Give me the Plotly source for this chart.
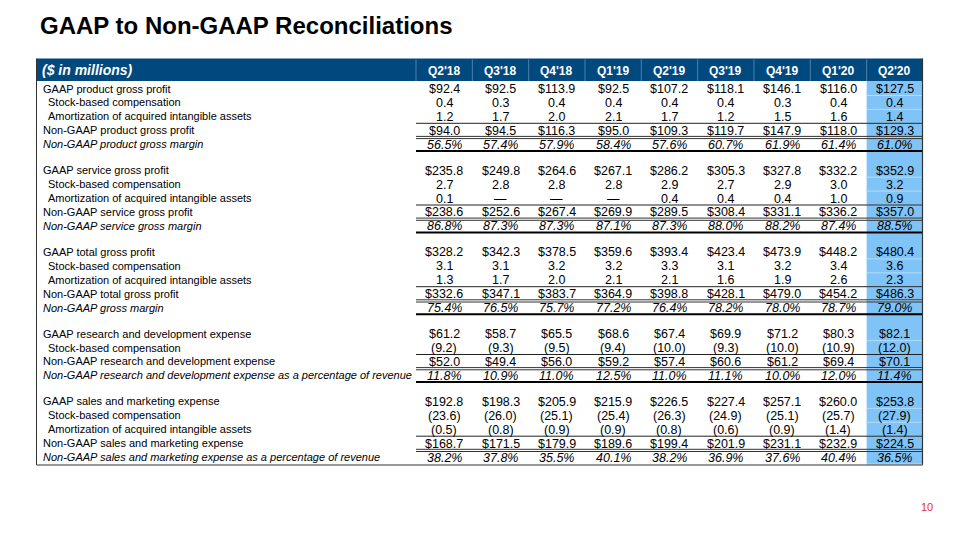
import plotly.graph_objects as go

quarters = ["Q2'18", "Q3'18", "Q4'18", "Q1'19", "Q2'19", "Q3'19", "Q4'19", "Q1'20", "Q2'20"]

# Product
product_gaap = [92.4, 92.5, 113.9, 92.5, 107.2, 118.1, 146.1, 116.0, 127.5]
product_sbc = [0.4, 0.3, 0.4, 0.4, 0.4, 0.4, 0.3, 0.4, 0.4]
product_amort = [1.2, 1.7, 2.0, 2.1, 1.7, 1.2, 1.5, 1.6, 1.4]
product_nongaap = [94.0, 94.5, 116.3, 95.0, 109.3, 119.7, 147.9, 118.0, 129.3]
product_margin = [56.5, 57.4, 57.9, 58.4, 57.6, 60.7, 61.9, 61.4, 61.0]
# Service
service_gaap = [235.8, 249.8, 264.6, 267.1, 286.2, 305.3, 327.8, 332.2, 352.9]
service_sbc = [2.7, 2.8, 2.8, 2.8, 2.9, 2.7, 2.9, 3.0, 3.2]
service_amort = [0.1, None, None, None, 0.4, 0.4, 0.4, 1.0, 0.9]
service_nongaap = [238.6, 252.6, 267.4, 269.9, 289.5, 308.4, 331.1, 336.2, 357.0]
service_margin = [86.8, 87.3, 87.3, 87.1, 87.3, 88.0, 88.2, 87.4, 88.5]
# Total
total_gaap = [328.2, 342.3, 378.5, 359.6, 393.4, 423.4, 473.9, 448.2, 480.4]
total_sbc = [3.1, 3.1, 3.2, 3.2, 3.3, 3.1, 3.2, 3.4, 3.6]
total_amort = [1.3, 1.7, 2.0, 2.1, 2.1, 1.6, 1.9, 2.6, 2.3]
total_nongaap = [332.6, 347.1, 383.7, 364.9, 398.8, 428.1, 479.0, 454.2, 486.3]
total_margin = [75.4, 76.5, 75.7, 77.2, 76.4, 78.2, 78.0, 78.7, 79.0]
# R&D
rd_gaap = [61.2, 58.7, 65.5, 68.6, 67.4, 69.9, 71.2, 80.3, 82.1]
rd_sbc = [-9.2, -9.3, -9.5, -9.4, -10.0, -9.3, -10.0, -10.9, -12.0]
rd_nongaap = [52.0, 49.4, 56.0, 59.2, 57.4, 60.6, 61.2, 69.4, 70.1]
rd_pct = [11.8, 10.9, 11.0, 12.5, 11.0, 11.1, 10.0, 12.0, 11.4]
# S&M
sm_gaap = [192.8, 198.3, 205.9, 215.9, 226.5, 227.4, 257.1, 260.0, 253.8]
sm_sbc = [-23.6, -26.0, -25.1, -25.4, -26.3, -24.9, -25.1, -25.7, -27.9]
sm_amort = [-0.5, -0.8, -0.9, -0.9, -0.8, -0.6, -0.9, -1.4, -1.4]
sm_nongaap = [168.7, 171.5, 179.9, 189.6, 199.4, 201.9, 231.1, 232.9, 224.5]
sm_pct = [38.2, 37.8, 35.5, 40.1, 38.2, 36.9, 37.6, 40.4, 36.5]

sections = [
    [("GAAP product gross profit", product_gaap, "gaap"),
     ("Stock-based compensation", product_sbc, "adj"),
     ("Amortization of acquired intangible assets", product_amort, "adj"),
     ("Non-GAAP product gross profit", product_nongaap, "nongaap"),
     ("Non-GAAP product gross margin", product_margin, "pct")],
    [("GAAP service gross profit", service_gaap, "gaap"),
     ("Stock-based compensation", service_sbc, "adj"),
     ("Amortization of acquired intangible assets", service_amort, "adj"),
     ("Non-GAAP service gross profit", service_nongaap, "nongaap"),
     ("Non-GAAP service gross margin", service_margin, "pct")],
    [("GAAP total gross profit", total_gaap, "gaap"),
     ("Stock-based compensation", total_sbc, "adj"),
     ("Amortization of acquired intangible assets", total_amort, "adj"),
     ("Non-GAAP total gross profit", total_nongaap, "nongaap"),
     ("Non-GAAP gross margin", total_margin, "pct")],
    [("GAAP research and development expense", rd_gaap, "gaap"),
     ("Stock-based compensation", rd_sbc, "adj"),
     ("Non-GAAP research and development expense", rd_nongaap, "nongaap"),
     ("Non-GAAP research and development expense as a percentage of revenue", rd_pct, "pct")],
    [("GAAP sales and marketing expense", sm_gaap, "gaap"),
     ("Stock-based compensation", sm_sbc, "adj"),
     ("Amortization of acquired intangible assets", sm_amort, "adj"),
     ("Non-GAAP sales and marketing expense", sm_nongaap, "nongaap"),
     ("Non-GAAP sales and marketing expense as a percentage of revenue", sm_pct, "pct")],
]

FONT = "Liberation Sans, Arial, sans-serif"
HEADER_BLUE = "#00497F"
HILITE = "#80C4F7"

TBL_L, TBL_R = 36.5, 922.5
HDR_T, HDR_B = 58.5, 81
TBL_B = 465
VAL_L = 416
COLW = 56.33
COL0 = VAL_L + COLW / 2
ROW0, STEP, GAP = 88.5, 13.9, 12.2
PAGE_OFF = 8  # browser body margin


def fmt(v, kind):
    if v is None:
        return "\u2014"
    if kind in ("gaap", "nongaap"):
        return "$%.1f" % v
    if kind == "pct":
        return "<i>%.1f%%</i>" % v
    if v < 0:
        return "(%.1f)" % (-v)
    return "%.1f" % v


fig = go.Figure()
shapes = []
ann = []

HL_X0 = VAL_L + COLW * 8

# header band and highlight column
shapes.append(dict(type="rect", x0=TBL_L, x1=TBL_R, y0=HDR_T, y1=HDR_B,
                   fillcolor=HEADER_BLUE, line=dict(width=0), layer="below"))
shapes.append(dict(type="rect", x0=HL_X0, x1=TBL_R, y0=HDR_B, y1=TBL_B,
                   fillcolor=HILITE, line=dict(width=0), layer="below"))
# header column separators
for i in range(len(quarters)):
    xb = VAL_L + COLW * i
    shapes.append(dict(type="line", x0=xb, x1=xb, y0=HDR_T + 1, y1=HDR_B,
                       line=dict(color="#4F7FAD", width=1)))

ann.append(dict(x=TBL_L + 3.5, y=(HDR_T + HDR_B) / 2 + 0.5, text="<b><i>($ in millions)</i></b>",
                xanchor="left", yanchor="middle", showarrow=False,
                font=dict(family=FONT, size=14, color="white")))
for i, q in enumerate(quarters):
    ann.append(dict(x=COL0 + COLW * i, y=(HDR_T + HDR_B) / 2 + 1.5, text="<b>%s</b>" % q,
                    xanchor="center", yanchor="middle", showarrow=False,
                    font=dict(family=FONT, size=12, color="white")))

k = 0
for s_idx, sec in enumerate(sections):
    for r_idx, (label, vals, kind) in enumerate(sec):
        y = ROW0 + STEP * k + GAP * s_idx
        indent = 5 if kind == "adj" else 0
        lab = "<i>%s</i>" % label if kind == "pct" else label
        ann.append(dict(x=TBL_L + 4 + indent, y=y, text=lab, xanchor="left", yanchor="middle",
                        showarrow=False, font=dict(family=FONT, size=11, color="black")))
        for i, v in enumerate(vals):
            ann.append(dict(x=COL0 + COLW * i, y=y + 0.5, text=fmt(v, kind), xanchor="center",
                            yanchor="middle", showarrow=False,
                            font=dict(family=FONT, size=12.5, color="black")))
        # faint cell borders inside highlight column
        shapes.append(dict(type="line", x0=HL_X0, x1=TBL_R, y0=y + 7, y1=y + 7,
                           line=dict(color="#B3DBFA", width=1), layer="below"))
        # rules
        nxt = sec[r_idx + 1][2] if r_idx + 1 < len(sec) else None
        if nxt == "nongaap":
            shapes.append(dict(type="line", x0=VAL_L, x1=TBL_R, y0=y + 7, y1=y + 7,
                               line=dict(color="#222222", width=1)))
        if kind == "nongaap":
            for dy in (6.2, 8.4):
                shapes.append(dict(type="line", x0=VAL_L, x1=TBL_R, y0=y + dy, y1=y + dy,
                                   line=dict(color="#333333", width=1)))
        if kind == "pct" and s_idx < len(sections) - 1:
            shapes.append(dict(type="line", x0=VAL_L, x1=TBL_R, y0=y + 6.8, y1=y + 6.8,
                               line=dict(color="black", width=2)))
        k += 1

# table borders
shapes.append(dict(type="line", x0=TBL_L, x1=TBL_L, y0=HDR_T, y1=TBL_B, line=dict(color="#333333", width=1)))
shapes.append(dict(type="line", x0=TBL_R, x1=TBL_R, y0=HDR_T, y1=TBL_B, line=dict(color="#333333", width=1.2)))
shapes.append(dict(type="line", x0=TBL_L, x1=TBL_R, y0=TBL_B, y1=TBL_B, line=dict(color="#777777", width=1.5)))

# title and page number
ann.append(dict(x=38, y=25, text="<b>GAAP to Non-GAAP Reconciliations</b>", xanchor="left",
                yanchor="middle", showarrow=False, font=dict(family=FONT, size=24, color="black")))
ann.append(dict(x=927, y=507, text="10", xanchor="center", yanchor="middle", showarrow=False,
                font=dict(family=FONT, size=11, color="#E0302F")))

fig.update_layout(
    width=960 - PAGE_OFF, height=540 - PAGE_OFF, margin=dict(l=0, r=0, t=0, b=0),
    paper_bgcolor="white", plot_bgcolor="white",
    xaxis=dict(range=[PAGE_OFF, 960], visible=False, fixedrange=True),
    yaxis=dict(range=[540, PAGE_OFF], visible=False, fixedrange=True),
    shapes=shapes, annotations=ann, showlegend=False,
)
fig.write_html("out.html")
